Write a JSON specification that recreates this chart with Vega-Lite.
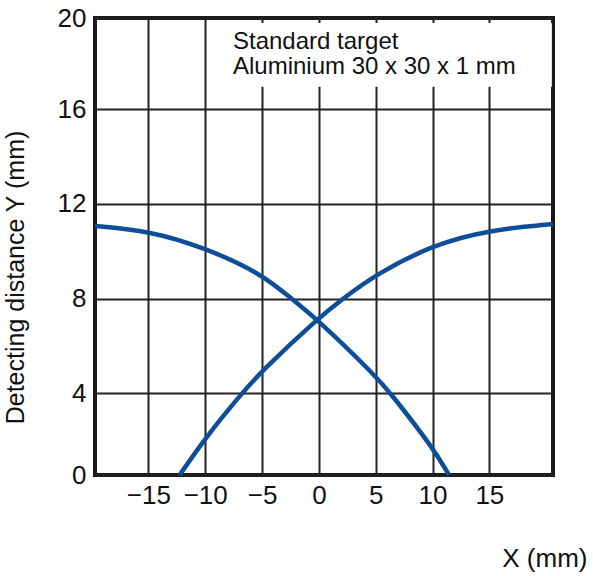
{
  "$schema": "https://vega.github.io/schema/vega-lite/v6.json",
  "width": 458,
  "height": 457,
  "autosize": {"type": "none"},
  "padding": {"left": 95, "top": 18, "right": 40, "bottom": 101},
  "background": "white",
  "config": {
    "font": "Liberation Sans",
    "view": {"stroke": "#1a1a1a", "strokeWidth": 4},
    "axis": {
      "grid": true,
      "gridColor": "#222222",
      "gridWidth": 2,
      "gridOpacity": 1,
      "domain": false,
      "ticks": false,
      "labelFont": "Liberation Sans",
      "labelFontSize": 26,
      "labelColor": "#111111",
      "titleFont": "Liberation Sans",
      "titleFontWeight": "normal",
      "titleColor": "#111111"
    }
  },
  "layer": [
    {
      "data": {
        "values": [
          {"series": "rising", "x": -12.25, "y": 0.54},
          {"series": "rising", "x": -10.02, "y": 2.09},
          {"series": "rising", "x": -6.94, "y": 3.9},
          {"series": "rising", "x": -5.09, "y": 4.91},
          {"series": "rising", "x": -0.19, "y": 7.12},
          {"series": "rising", "x": 2.15, "y": 8.01},
          {"series": "rising", "x": 5.09, "y": 9.04},
          {"series": "rising", "x": 10.01, "y": 10.27},
          {"series": "rising", "x": 14.99, "y": 10.9},
          {"series": "rising", "x": 20.6, "y": 11.15},
          {"series": "falling", "x": -19.7, "y": 11.07},
          {"series": "falling", "x": -15.01, "y": 10.87},
          {"series": "falling", "x": -10.02, "y": 10.15},
          {"series": "falling", "x": -5.09, "y": 9.06},
          {"series": "falling", "x": -2.54, "y": 8.04},
          {"series": "falling", "x": -0.19, "y": 7.15},
          {"series": "falling", "x": 5.09, "y": 4.68},
          {"series": "falling", "x": 6.3, "y": 4.0},
          {"series": "falling", "x": 10.01, "y": 1.71},
          {"series": "falling", "x": 11.45, "y": 0.54}
        ]
      },
      "mark": {"type": "line", "interpolate": "basis", "strokeWidth": 4.5, "color": "#0E4D98", "clip": false},
      "encoding": {
        "x": {
          "field": "x",
          "type": "quantitative",
          "scale": {"domain": [-19.7, 20.6], "nice": false, "zero": false},
          "axis": {
            "values": [-15, -10, -5, 0, 5, 10, 15],
            "title": "X (mm)",
            "labelPadding": 28,
            "labelBaseline": "alphabetic",
            "titleFontSize": 26,
            "titleX": 492,
            "titleY": 91,
            "titleAlign": "right",
            "titleBaseline": "alphabetic"
          }
        },
        "y": {
          "field": "y",
          "type": "quantitative",
          "scale": {"domain": [0.54, 19.86], "nice": false, "zero": false},
          "axis": {
            "values": [0.54, 4, 8, 12, 16, 19.86],
            "labelExpr": "datum.value < 1 ? '0' : datum.value > 19 ? '20' : datum.label",
            "labelPadding": 9,
            "title": "Detecting distance Y (mm)",
            "titleFontSize": 25,
            "titleX": -72,
            "titleY": 259,
            "titleAlign": "center",
            "titleBaseline": "alphabetic",
            "titleAngle": -90
          }
        },
        "detail": {"field": "series", "type": "nominal"}
      }
    },
    {
      "data": {"values": [{}]},
      "mark": {"type": "rect", "color": "white"},
      "encoding": {
        "x": {"datum": -9.5},
        "x2": {"datum": 20.5},
        "y": {"datum": 19.65},
        "y2": {"datum": 16.95}
      }
    },
    {
      "data": {"values": [{}]},
      "mark": {"type": "text", "align": "left", "baseline": "alphabetic", "fontSize": 24, "lineHeight": 25, "color": "#111111"},
      "encoding": {
        "x": {"datum": -7.56},
        "y": {"datum": 18.55},
        "text": {"value": ["Standard target", "Aluminium 30 x 30 x 1 mm"]}
      }
    }
  ]
}
